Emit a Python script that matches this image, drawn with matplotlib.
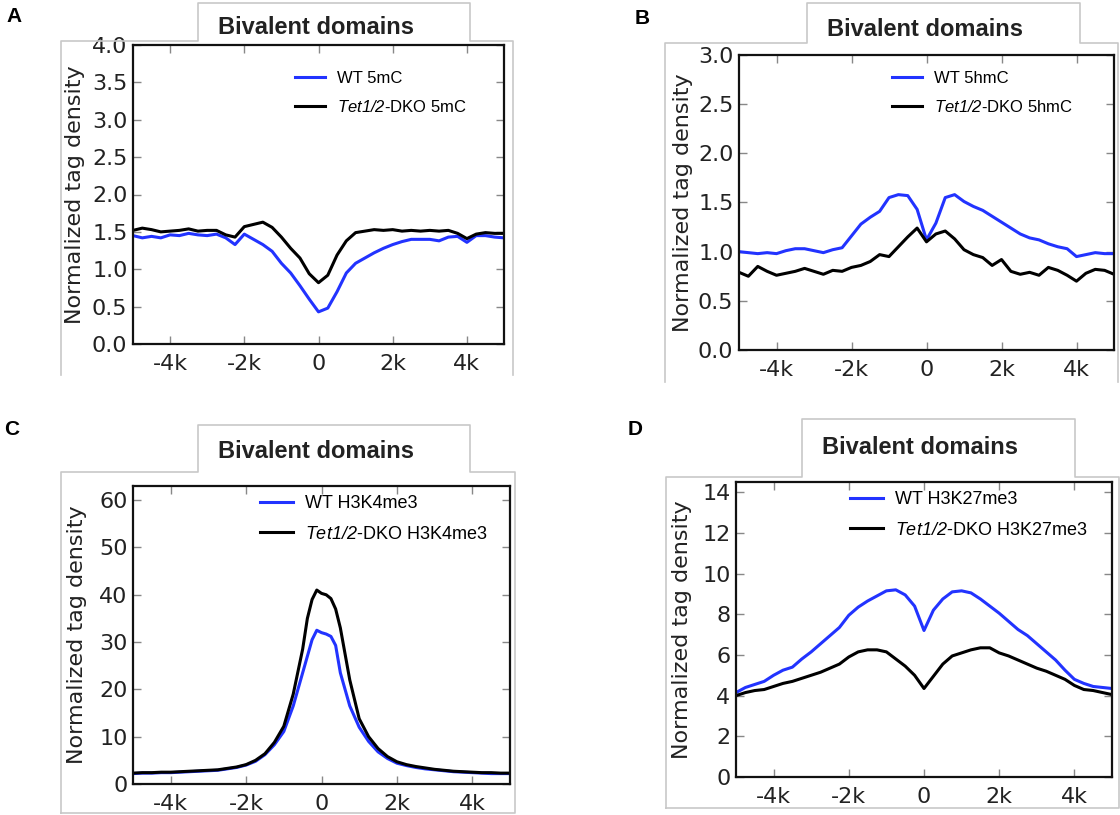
import matplotlib.pyplot as plt
from matplotlib.lines import Line2D

plt.rcParams['mathtext.fontset'] = 'custom'
plt.rcParams['mathtext.sf'] = 'Liberation Sans:italic'
plt.rcParams['mathtext.rm'] = 'Liberation Sans'

# -----------------------------
# Data (distance from domain centre, bp)
# -----------------------------

positions = [
    -5000, -4750, -4500, -4250, -4000, -3750, -3500, -3250, -3000, -2750,
    -2500, -2250, -2000, -1750, -1500, -1250, -1000, -750, -500, -250,
    0, 250, 500, 750, 1000, 1250, 1500, 1750, 2000, 2250,
    2500, 2750, 3000, 3250, 3500, 3750, 4000, 4250, 4500, 4750, 5000,
]

# finer sampling around the H3K4me3 summit
positions_c = [
    -5000, -4750, -4500, -4250, -4000, -3750, -3500, -3250, -3000, -2750,
    -2500, -2250, -2000, -1750, -1500, -1250, -1000, -750, -500, -375,
    -250, -125, 0, 125, 250, 375, 500, 750, 1000, 1250,
    1500, 1750, 2000, 2250, 2500, 2750, 3000, 3250, 3500, 3750,
    4000, 4250, 4500, 4750, 5000,
]

wt_5mc = [
    1.45, 1.42, 1.44, 1.42, 1.46, 1.45, 1.48, 1.46, 1.45, 1.47,
    1.42, 1.33, 1.47, 1.40, 1.33, 1.24, 1.08, 0.95, 0.78, 0.60,
    0.43, 0.48, 0.70, 0.95, 1.08, 1.15, 1.22, 1.28, 1.33, 1.37,
    1.40, 1.40, 1.40, 1.38, 1.43, 1.44, 1.36, 1.45, 1.45, 1.43, 1.42,
]
dko_5mc = [
    1.52, 1.55, 1.53, 1.50, 1.51, 1.52, 1.54, 1.51, 1.52, 1.52,
    1.46, 1.43, 1.57, 1.60, 1.63, 1.56, 1.43, 1.28, 1.15, 0.94,
    0.82, 0.92, 1.19, 1.38, 1.49, 1.51, 1.53, 1.52, 1.53, 1.51,
    1.52, 1.51, 1.52, 1.51, 1.52, 1.48, 1.41, 1.47, 1.49, 1.48, 1.48,
]

wt_5hmc = [
    1.00, 0.99, 0.98, 0.99, 0.98, 1.01, 1.03, 1.03, 1.01, 0.99,
    1.02, 1.04, 1.16, 1.28, 1.35, 1.41, 1.55, 1.58, 1.57, 1.43,
    1.12, 1.29, 1.55, 1.58, 1.51, 1.46, 1.42, 1.36, 1.30, 1.24,
    1.18, 1.14, 1.12, 1.08, 1.05, 1.03, 0.95, 0.97, 0.99, 0.98, 0.98,
]
dko_5hmc = [
    0.79, 0.75, 0.85, 0.80, 0.76, 0.78, 0.80, 0.83, 0.80, 0.77,
    0.81, 0.80, 0.84, 0.86, 0.90, 0.97, 0.95, 1.05, 1.15, 1.24,
    1.10, 1.18, 1.21, 1.13, 1.02, 0.97, 0.94, 0.86, 0.92, 0.80,
    0.77, 0.79, 0.76, 0.84, 0.81, 0.76, 0.70, 0.78, 0.82, 0.81, 0.77,
]

wt_h3k4 = [
    2.2, 2.3, 2.3, 2.4, 2.4, 2.5, 2.6, 2.7, 2.8, 2.9,
    3.2, 3.5, 4.0, 4.8, 6.2, 8.3, 11.1, 16.5, 23.5, 27.0,
    30.5, 32.5, 32.0, 31.7, 31.2, 29.3, 23.5, 16.5, 12.0, 9.0,
    6.8, 5.4, 4.4, 3.9, 3.5, 3.2, 3.0, 2.8, 2.6, 2.5,
    2.4, 2.3, 2.2, 2.2, 2.2,
]
dko_h3k4 = [
    2.3, 2.4, 2.4, 2.5, 2.5, 2.6, 2.7, 2.8, 2.9, 3.0,
    3.3, 3.6, 4.1, 5.0, 6.4, 8.8, 12.2, 19.0, 28.5, 35.0,
    39.0, 41.0, 40.3, 40.0, 39.2, 37.0, 33.0, 22.0, 13.8, 10.0,
    7.5, 5.8, 4.7, 4.1, 3.7, 3.4, 3.1, 2.9, 2.7, 2.6,
    2.5, 2.4, 2.4, 2.3, 2.3,
]

wt_h3k27 = [
    4.15, 4.40, 4.55, 4.70, 5.00, 5.25, 5.40, 5.80, 6.15, 6.55,
    6.95, 7.35, 7.95, 8.35, 8.65, 8.90, 9.15, 9.20, 8.95, 8.40,
    7.20, 8.20, 8.75, 9.10, 9.15, 9.05, 8.75, 8.40, 8.05, 7.65,
    7.25, 6.95, 6.55, 6.15, 5.75, 5.25, 4.80, 4.60, 4.45, 4.40, 4.35,
]
dko_h3k27 = [
    4.00, 4.15, 4.25, 4.30, 4.45, 4.60, 4.70, 4.85, 5.00, 5.15,
    5.35, 5.55, 5.90, 6.15, 6.25, 6.25, 6.15, 5.80, 5.45, 5.00,
    4.35, 4.95, 5.55, 5.95, 6.10, 6.25, 6.35, 6.35, 6.10, 5.95,
    5.75, 5.55, 5.35, 5.20, 5.00, 4.80, 4.50, 4.30, 4.25, 4.15, 4.05,
]

x_ticks = [-4000, -2000, 0, 2000, 4000]
x_tick_labels = ['-4k', '-2k', '0', '2k', '4k']

W, H = 1120, 815
BLUE = '#2233ff'
FRAME = '#c8c8c8'


def fx(px):
    return px / W


def fy(py):
    return 1 - py / H


panels = [
    dict(letter='A', letter_xy=(14, 17),
         box=(133, 45, 504, 344), ylim=(0, 4.0),
         yticks=[0, 0.5, 1.0, 1.5, 2.0, 2.5, 3.0, 3.5, 4.0], yfmt='{:.1f}',
         x=positions, wt=wt_5mc, dko=dko_5mc,
         labels=['WT 5mC', r'$\mathsf{Tet1/2}$-DKO 5mC'],
         leg_xy=(295, 71), leg_size=12,
         title_xy=(316, 28), ylabel_x=75,
         frame=[(61, 375), (61, 41), (198, 41), (198, 3), (470, 3),
                (470, 41), (513, 41), (513, 375)]),
    dict(letter='B', letter_xy=(642, 19),
         box=(739, 55, 1114, 350), ylim=(0, 3.0),
         yticks=[0, 0.5, 1.0, 1.5, 2.0, 2.5, 3.0], yfmt='{:.1f}',
         x=positions, wt=wt_5hmc, dko=dko_5hmc,
         labels=['WT 5hmC', r'$\mathsf{Tet1/2}$-DKO 5hmC'],
         leg_xy=(892, 71), leg_size=12,
         title_xy=(925, 30), ylabel_x=683,
         frame=[(665, 382), (665, 43), (807, 43), (807, 3), (1080, 3),
                (1080, 43), (1118, 43), (1118, 382)]),
    dict(letter='C', letter_xy=(12, 430),
         box=(133, 486, 510, 784), ylim=(0, 63),
         yticks=[0, 10, 20, 30, 40, 50, 60], yfmt='{:.0f}',
         x=positions_c, wt=wt_h3k4, dko=dko_h3k4,
         labels=['WT H3K4me3', r'$\mathsf{Tet1/2}$-DKO H3K4me3'],
         leg_xy=(260, 495), leg_size=13,
         title_xy=(316, 452), ylabel_x=77,
         frame=[(61, 813), (61, 472), (198, 472), (198, 425), (470, 425),
                (470, 472), (515, 472), (515, 813), (61, 813)]),
    dict(letter='D', letter_xy=(635, 430),
         box=(736, 482, 1112, 777), ylim=(0, 14.5),
         yticks=[0, 2, 4, 6, 8, 10, 12, 14], yfmt='{:.0f}',
         x=positions, wt=wt_h3k27, dko=dko_h3k27,
         labels=['WT H3K27me3', r'$\mathsf{Tet1/2}$-DKO H3K27me3'],
         leg_xy=(850, 491), leg_size=13,
         title_xy=(920, 447), ylabel_x=682,
         frame=[(666, 808), (666, 477), (802, 477), (802, 419), (1075, 419),
                (1075, 477), (1119, 477), (1119, 808), (666, 808)]),
]

fig = plt.figure(figsize=(W / 100, H / 100), dpi=100)

for p in panels:

    # -----------------------------
    # Grey frame with title tab
    # -----------------------------

    xs = [fx(v[0]) for v in p['frame']]
    ys = [fy(v[1]) for v in p['frame']]
    fig.add_artist(Line2D(xs, ys, color=FRAME, lw=1.2,
                          transform=fig.transFigure))

    fig.text(fx(p['title_xy'][0]), fy(p['title_xy'][1]), 'Bivalent domains',
             ha='center', va='center', fontsize=17, fontweight='bold',
             family='Liberation Sans', color='#222222')

    fig.text(fx(p['letter_xy'][0]), fy(p['letter_xy'][1]), p['letter'],
             ha='center', va='center', fontsize=15, fontweight='bold',
             family='Liberation Sans', color='black')

    # -----------------------------
    # Profiles
    # -----------------------------

    left, top, right, bottom = p['box']
    ax = fig.add_axes([fx(left), fy(bottom), (right - left) / W,
                       (bottom - top) / H])

    ax.plot(p['x'], p['wt'], color=BLUE, lw=2.2, label=p['labels'][0])
    ax.plot(p['x'], p['dko'], color='black', lw=2.2,
            label=p['labels'][1])

    ax.set_xlim(-5000, 5000)
    ax.set_ylim(*p['ylim'])
    ax.set_xticks(x_ticks)
    ax.set_xticklabels(x_tick_labels)
    ax.set_yticks(p['yticks'])
    ax.set_yticklabels([p['yfmt'].format(v) for v in p['yticks']])

    ax.tick_params(direction='in', length=6, width=1, color='#888888',
                   labelsize=16, labelcolor='#222222',
                   top=True, right=True)
    ax.tick_params(axis='x', pad=7)
    ax.tick_params(axis='y', pad=4)

    for spine in ax.spines.values():
        spine.set_linewidth(1.6)
        spine.set_color('#111111')

    ax.set_ylabel('Normalized tag density', fontsize=16, color='#222222')
    ax.yaxis.set_label_coords(fx(p['ylabel_x']), fy((top + bottom) / 2),
                              transform=fig.transFigure)
    ax.yaxis.label.set_verticalalignment('center')

    ax.legend(loc='upper left',
              bbox_to_anchor=(fx(p['leg_xy'][0]), fy(p['leg_xy'][1])),
              bbox_transform=fig.transFigure, frameon=False,
              borderpad=0, borderaxespad=0, handlelength=1.8,
              handletextpad=0.7, labelspacing=0.75,
              prop={'family': 'Liberation Sans', 'size': p['leg_size']})

fig.savefig('out.png', dpi=100)
